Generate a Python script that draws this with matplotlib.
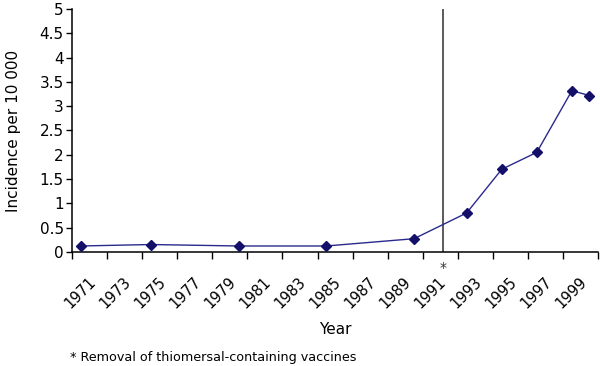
import matplotlib
matplotlib.use("Agg")
import matplotlib.pyplot as plt
import numpy as np

# Category axis: one slot per year, 1971-2000
categories = list(range(1971, 2001))
tick_years = list(range(1971, 2000, 2))

# Observed incidence per 10 000
years = [1971, 1975, 1980, 1985, 1990, 1993, 1995, 1997, 1999, 2000]
incidence = [0.12, 0.15, 0.12, 0.12, 0.27, 0.80, 1.70, 2.05, 3.32, 3.22]

removal_pos = 20.65  # category position of the vertical marker line

plt.rcParams["font.family"] = "DejaVu Sans"

fig = plt.figure(figsize=(6.0, 3.66), dpi=100)
ax = fig.add_axes([0.12, 0.312, 0.877, 0.663])

xpos = [categories.index(y) for y in years]
ax.plot(xpos, incidence, color="#2a2a8c", linewidth=1.0, marker="D",
        markersize=5.2, markerfacecolor="#14106a", markeredgecolor="#14106a",
        zorder=3)

ax.axvline(removal_pos, color="#404040", linewidth=1.2, zorder=2)

ax.set_xlim(-0.5, len(categories) - 0.5)
ax.set_ylim(0, 5)

# major ticks between categories (unlabelled), minor ticks carry the labels
ax.set_xticks(np.arange(-0.5, len(categories), 2))
ax.set_xticklabels([])
ax.set_xticks([categories.index(y) + 0.4 for y in tick_years], minor=True)
ax.set_xticklabels([str(y) for y in tick_years], minor=True, rotation=45,
                   ha="right", rotation_mode="anchor", fontsize=10.5)
ax.tick_params(axis="x", which="major", direction="out", length=5, width=1)
ax.tick_params(axis="x", which="minor", length=0, pad=16)

yt = np.arange(0, 5.01, 0.5)
ax.set_yticks(yt)
ax.set_yticklabels([f"{v:g}" for v in yt], fontsize=11)
ax.tick_params(axis="y", direction="out", length=4, width=1, pad=2)

for s in ["top", "right"]:
    ax.spines[s].set_visible(False)
for s in ["left", "bottom"]:
    ax.spines[s].set_linewidth(1.1)

ax.set_ylabel("Incidence per 10 000", fontsize=11, labelpad=13)
ax.set_xlabel("Year", fontsize=11, labelpad=8)

ax.text(removal_pos, -0.18, "*", ha="center", va="top", fontsize=10,
        color="#333333", clip_on=False)

fig.text(0.117, 0.022, "* Removal of thiomersal-containing vaccines",
         fontsize=9.2, ha="left", va="center")

fig.savefig("out.png", dpi=100)
